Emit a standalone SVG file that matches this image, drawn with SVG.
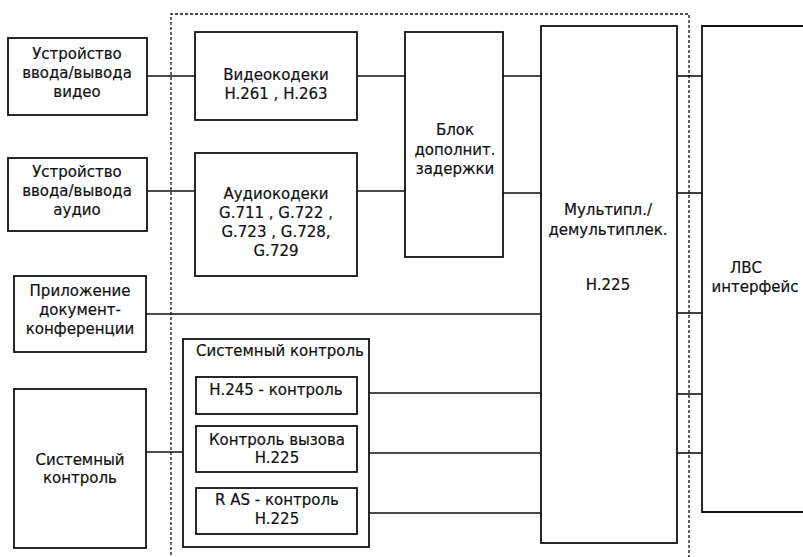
<svg xmlns="http://www.w3.org/2000/svg" width="803" height="557" viewBox="0 0 803 557">
  <style>
    .box { fill: #ffffff; stroke: #111111; stroke-width: 1.8; }
    .wire { fill: none; stroke: #111111; stroke-width: 1.6; }
    .frame { fill: none; stroke: #111111; stroke-width: 1.3; stroke-dasharray: 3 2; }
    text { font-family: "DejaVu Sans", "Liberation Sans", sans-serif; font-size: 15px; fill: #111111; text-anchor: middle; stroke: #111111; stroke-width: 0.2; }
  </style>
  <rect width="803" height="557" fill="#ffffff"/>

  <!-- terminal boundary (dotted) -->
  <path class="frame" d="M171,560 V14 H689 V560"/>

  <!-- connectors -->
  <g id="connectors">
    <path class="wire" d="M147,76 H195"/>
    <path class="wire" d="M357,76 H405"/>
    <path class="wire" d="M147,191 H195"/>
    <path class="wire" d="M357,191 H405"/>
    <path class="wire" d="M503,76 H541"/>
    <path class="wire" d="M503,193 H541"/>
    <path class="wire" d="M146,314 H541"/>
    <path class="wire" d="M357,393 H541"/>
    <path class="wire" d="M357,453 H541"/>
    <path class="wire" d="M357,513 H541"/>
    <path class="wire" d="M146,452 H183"/>
    <path class="wire" d="M677,76 H702"/>
    <path class="wire" d="M677,193 H702"/>
    <path class="wire" d="M677,313 H702"/>
    <path class="wire" d="M677,394 H702"/>
    <path class="wire" d="M677,453 H702"/>
  </g>

  <g id="video-io">
    <rect class="box" x="8" y="38" width="139" height="77"/>
    <text x="77" y="59">Устройство</text>
    <text x="77" y="78">ввода/вывода</text>
    <text x="77" y="97">видео</text>
  </g>

  <g id="audio-io">
    <rect class="box" x="8" y="158" width="139" height="73"/>
    <text x="77" y="177">Устройство</text>
    <text x="77" y="196">ввода/вывода</text>
    <text x="77" y="215">аудио</text>
  </g>

  <g id="doc-app">
    <rect class="box" x="14" y="276" width="132" height="76"/>
    <text x="80" y="296">Приложение</text>
    <text x="80" y="315">документ-</text>
    <text x="80" y="334">конференции</text>
  </g>

  <g id="sys-control-ext">
    <rect class="box" x="14" y="389" width="132" height="159"/>
    <text x="80" y="465">Системный</text>
    <text x="80" y="483">контроль</text>
  </g>

  <g id="video-codecs">
    <rect class="box" x="195" y="32" width="162" height="88"/>
    <text x="276" y="80">Видеокодеки</text>
    <text x="276" y="99">H.261 , H.263</text>
  </g>

  <g id="audio-codecs">
    <rect class="box" x="195" y="153" width="162" height="123"/>
    <text x="276" y="199">Аудиокодеки</text>
    <text x="276" y="218">G.711 , G.722 ,</text>
    <text x="276" y="237">G.723 , G.728,</text>
    <text x="276" y="256">G.729</text>
  </g>

  <g id="delay-block">
    <rect class="box" x="405" y="32" width="98" height="225"/>
    <text x="455" y="135">Блок</text>
    <text x="455" y="155">дополнит.</text>
    <text x="455" y="174">задержки</text>
  </g>

  <g id="sys-control">
    <rect class="box" x="183" y="339" width="186" height="208"/>
    <text x="280" y="356">Системный контроль</text>
  </g>

  <g id="h245">
    <rect class="box" x="196" y="377" width="161" height="37"/>
    <text x="276" y="395">H.245 - контроль</text>
  </g>

  <g id="call-control">
    <rect class="box" x="196" y="426" width="161" height="46"/>
    <text x="277" y="445">Контроль вызова</text>
    <text x="277" y="463">H.225</text>
  </g>

  <g id="ras-control">
    <rect class="box" x="196" y="488" width="161" height="46"/>
    <text x="277" y="505">R AS - контроль</text>
    <text x="277" y="524">H.225</text>
  </g>

  <g id="mux">
    <rect class="box" x="541" y="26" width="136" height="517"/>
    <text x="608" y="215">Мультипл./</text>
    <text x="608" y="235">демультиплек.</text>
    <text x="608" y="290">H.225</text>
  </g>

  <g id="lan">
    <path class="box" d="M810,26 H702 V512 H810"/>
    <text x="746" y="273">ЛВС</text>
    <text x="755" y="292">интерфейс</text>
  </g>
</svg>
